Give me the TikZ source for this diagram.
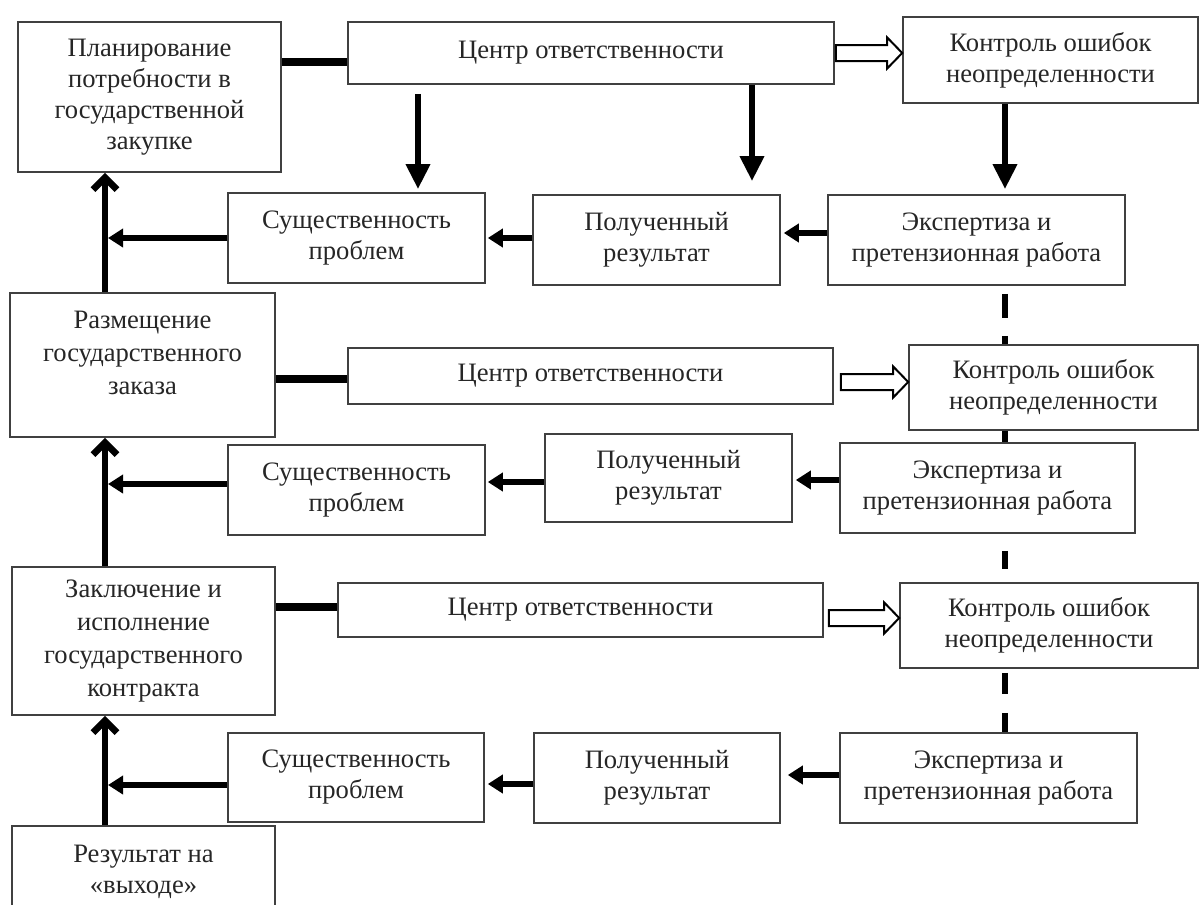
\documentclass[tikz,border=0pt]{standalone}
\usepackage{fontspec}
\setmainfont{Liberation Serif}
\usetikzlibrary{arrows.meta,calc}
\newcommand\hollowarr[4]{%
  \draw[hol] let \p1=(#1.east |- 0,#3), \p2=(#2.west) in
    (\x1+#4,\y1+4pt) -- (\x2-7.5pt,\y1+4pt) -- (\x2-7.5pt,\y1+7.75pt) -- (\x2,\y1)
    -- (\x2-7.5pt,\y1-7.75pt) -- (\x2-7.5pt,\y1-4pt) -- (\x1+#4,\y1-4pt) -- cycle;}
\begin{document}
\begin{tikzpicture}[x=0.5pt,y=-0.5pt,
  box/.style={draw=black!75, line width=0.8pt, fill=white, align=center, inner sep=1pt,
    font=\fontsize{13.3}{15.5}\selectfont, text=black!85},
  txt/.style={align=center, inner sep=0pt, font=\fontsize{13.3}{16.5}\selectfont, text=black!85},
  link/.style={line width=4pt},
  harrow/.style={line width=3pt, -{Triangle[length=7.5pt,width=9pt]}},
  varrow/.style={line width=3.2pt, -{Triangle[length=12.5pt,width=11.5pt]}},
  uparrow/.style={line width=3.4pt, -{Straight Barb[length=6pt,width=12pt]}},
  dline/.style={line width=3pt},
  hol/.style={draw=black, line width=1pt, fill=white}
]
\clip (0,0) rectangle (1200,905);
\fill[white] (0,0) rectangle (1200,905);
\coordinate (vx) at (105,0);
\coordinate (vr) at (1005,0);

% row 1
\node[box, minimum width=131.5pt, minimum height=75pt] (plan) at (149.5,97) {Планирование\\потребности в\\государственной\\закупке};
\node[box, minimum width=243pt, minimum height=31pt] (c1) at (591,53) {Центр ответственности};
\node[box, minimum width=147.5pt, minimum height=43pt] (k1) at (1050.5,60) {Контроль ошибок\\неопределенности};
\node[box, minimum width=128.5pt, minimum height=45pt] (s1) at (356.5,238) {Существенность\\проблем};
\node[box, minimum width=123.5pt, minimum height=45pt] (p1) at (656.5,240) {Полученный\\результат};
\node[box, minimum width=148.5pt, minimum height=45pt] (e1) at (976.5,240) {Экспертиза и\\претензионная работа};

% row 2
\node[box, minimum width=132.5pt, minimum height=72pt] (razm) at (142.5,365) {};
\node[txt] (razmT) at (142.5,353) {Размещение\\государственного\\заказа};
\node[box, minimum width=242.5pt, minimum height=28pt] (c2) at (590.5,376) {Центр ответственности};
\node[box, minimum width=144.5pt, minimum height=42.5pt] (k2) at (1053.5,387.5) {Контроль ошибок\\неопределенности};
\node[box, minimum width=128.5pt, minimum height=45pt] (s2) at (356.5,490) {Существенность\\проблем};
\node[box, minimum width=123.5pt, minimum height=44pt] (p2) at (668.5,478) {Полученный\\результат};
\node[box, minimum width=147.5pt, minimum height=45pt] (e2) at (987.5,488) {Экспертиза и\\претензионная работа};

% row 3
\node[box, minimum width=131.5pt, minimum height=74pt, font=\fontsize{13.3}{16.5}\selectfont] (zakl) at (143.5,641) {Заключение и\\исполнение\\государственного\\контракта};
\node[box, minimum width=242.5pt, minimum height=27pt] (c3) at (580.5,610) {Центр ответственности};
\node[box, minimum width=149pt, minimum height=42.5pt] (k3) at (1049,625.5) {Контроль ошибок\\неопределенности};
\node[box, minimum width=128pt, minimum height=44.5pt] (s3) at (356,777.5) {Существенность\\проблем};
\node[box, minimum width=123pt, minimum height=45pt] (p3) at (657,778) {Полученный\\результат};
\node[box, minimum width=148.5pt, minimum height=45pt] (e3) at (988.5,778) {Экспертиза и\\претензионная работа};
\node[box, minimum width=131.5pt, minimum height=46pt] (rez) at (143.5,872) {Результат на\\«выходе»};

% links to responsibility centres
\draw[link] (plan.east |- 0,62) -- (c1.west |- 0,62);
\draw[link] (razm.east |- 0,379) -- (c2.west |- 0,379);
\draw[link] (zakl.east |- 0,607) -- (c3.west |- 0,607);

% hollow arrows
\hollowarr{c1}{k1}{53}{0.5pt}
\hollowarr{c2}{k2}{382}{3.5pt}
\hollowarr{c3}{k3}{618}{2.5pt}

% down arrows
\draw[varrow, shorten <=4.5pt, shorten >=1.5pt] (c1.south -| 418,0) -- (s1.north -| 418,0);
\draw[varrow, shorten >=6.5pt] (c1.south -| 752,0) -- (p1.north -| 752,0);
\draw[varrow, shorten >=2.5pt] (k1.south -| vr) -- (e1.north -| vr);

% dashed / solid right-hand links
\draw[dline, dash pattern=on 12pt off 9pt, dash phase=17pt] (e1.south -| vr) -- (k2.north -| vr);
\draw[dline] (k2.south -| vr) -- (e2.north -| vr);
\draw[dline, dash pattern=on 9pt off 8.5pt, dash phase=9pt] (e2.south -| vr) -- (k3.north -| vr);
\draw[dline, dash pattern=on 10.5pt off 9.5pt, dash phase=18pt] (k3.south -| vr) -- (e3.north -| vr);

% horizontal arrows row 1
\draw[harrow, shorten >=1.5pt] (e1.west |- 0,233) -- (p1.east |- 0,233);
\draw[harrow, shorten >=1pt] (p1.west |- 0,238) -- (s1.east |- 0,238);
\draw[harrow, shorten >=1.5pt] (s1.west |- 0,238) -- (vx |- 0,238);
% row 2
\draw[harrow, shorten >=1.5pt] (e2.west |- 0,480) -- (p2.east |- 0,480);
\draw[harrow, shorten >=1pt] (p2.west |- 0,482) -- (s2.east |- 0,482);
\draw[harrow, shorten >=1.5pt] (s2.west |- 0,484) -- (vx |- 0,484);
% row 3
\draw[harrow, shorten >=3.5pt] (e3.west |- 0,775) -- (p3.east |- 0,775);
\draw[harrow, shorten >=1.5pt] (p3.west |- 0,784) -- (s3.east |- 0,784);
\draw[harrow, shorten >=1.5pt] (s3.west |- 0,785) -- (vx |- 0,785);

% up arrows
\draw[uparrow] (razm.north -| vx) -- (plan.south -| vx);
\draw[uparrow] (zakl.north -| vx) -- (razm.south -| vx);
\draw[uparrow] (rez.north -| vx) -- (zakl.south -| vx);
\end{tikzpicture}
\end{document}
